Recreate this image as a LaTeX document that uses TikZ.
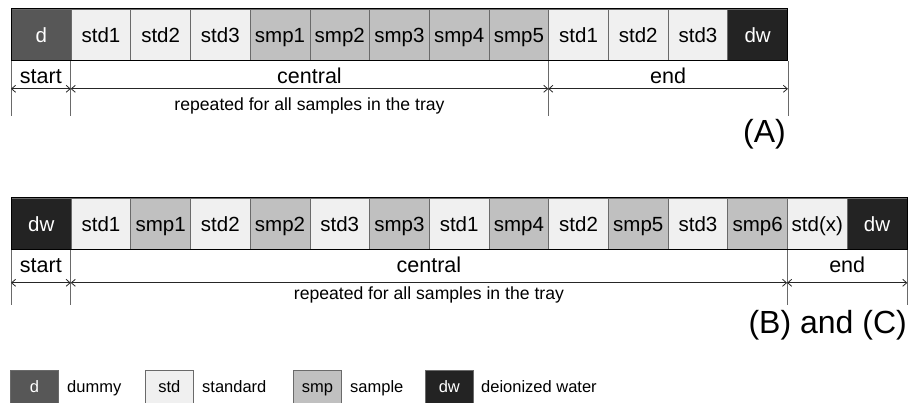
\documentclass[tikz,border=0pt]{standalone}
\usepackage{fontspec}
\setmainfont{Liberation Sans}
\usetikzlibrary{arrows.meta,calc}
\definecolor{cdummy}{HTML}{575757}
\definecolor{cstd}{HTML}{F0F0F0}
\definecolor{csmp}{HTML}{C0C0C0}
\definecolor{cdw}{HTML}{232323}
\definecolor{cline}{HTML}{6A6A6A}
\begin{document}
\begin{tikzpicture}[x=1pt,y=-1pt,
  cell/.style={draw=cline, line width=0.8pt, minimum width=59.7pt, minimum height=51pt,
    inner sep=0pt, text height=16pt, text depth=0pt, anchor=north west,
    font=\fontsize{20.5}{21}\selectfont},
  dum/.style={fill=cdummy, text=white},
  std/.style={fill=cstd},
  smp/.style={fill=csmp},
  dwk/.style={fill=cdw, text=white},
  lab/.style={anchor=base, inner sep=0pt, font=\fontsize{21.5}{22}\selectfont},
  note/.style={anchor=base, inner sep=0pt, font=\fontsize{17.6}{18}\selectfont},
  tag/.style={anchor=base east, inner sep=0pt, font=\fontsize{32}{33}\selectfont},
  guide/.style={draw=cline, line width=0.8pt},
  dim/.style={draw=black!85, line width=0.8pt, {Straight Barb[length=4pt,width=7pt]}-{Straight Barb[length=4pt,width=7pt]}},
  key/.style={draw=cline, line width=0.7pt, minimum width=48pt, minimum height=38pt,
    inner sep=0pt, text height=12pt, text depth=6pt, anchor=north west,
    font=\fontsize{16.5}{17}\selectfont},
  keytext/.style={anchor=base west, inner sep=0pt, font=\fontsize{16.5}{17}\selectfont}]

\useasboundingbox (0,0) rectangle (909,403);

% ---------- sequence (A) ----------
\foreach \lab/\kind [count=\i] in {d/dum,std1/std,std2/std,std3/std,smp1/smp,smp2/smp,smp3/smp,smp4/smp,smp5/smp,std1/std,std2/std,std3/std,dw/dwk}
  \node[cell,\kind] (a\i) at ({11+(\i-1)*59.7},9) {\lab};
\draw[black, line width=1pt] (a1.north west) rectangle (a13.south east);

\foreach \n/\c in {a1.south west/va0, a2.south west/va1, a10.south west/va2, a13.south east/va3} {
  \coordinate (\c) at ($(\n)+(0,55)$);
  \coordinate (h\c) at ($(\n)+(0,28)$);
  \draw[guide] (\n) -- (\c);
}
\draw[dim] (hva0) -- (hva1);
\draw[dim] (hva1) -- (hva2);
\draw[dim] (hva2) -- (hva3);
\node[lab] (sa) at ($(hva0)!0.5!(hva1)+(0,-5)$) {start};
\node[lab] (ca) at ($(hva1)!0.5!(hva2)+(0,-5)$) {central};
\node[lab] (ea) at ($(hva2)!0.5!(hva3)+(0,-5)$) {end};
\node[note] (ra) at ($(hva1)!0.5!(hva2)+(0,21.5)$) {repeated for all samples in the tray};
\node[tag] (ta) at (786,143) {(A)};

% ---------- sequence (B) and (C) ----------
\foreach \lab/\kind [count=\i] in {dw/dwk,std1/std,smp1/smp,std2/std,smp2/smp,std3/std,smp3/smp,std1/std,smp4/smp,std2/std,smp5/smp,std3/std,smp6/smp,std(x)/std,dw/dwk}
  \node[cell,\kind] (b\i) at ({11+(\i-1)*59.7},198) {\lab};
\draw[black, line width=1pt] (b1.north west) rectangle (b15.south east);

\foreach \n/\c in {b1.south west/vb0, b2.south west/vb1, b14.south west/vb2, b15.south east/vb3} {
  \coordinate (\c) at ($(\n)+(0,55)$);
  \coordinate (h\c) at ($(\n)+(0,33)$);
  \draw[guide] (\n) -- (\c);
}
\draw[dim] (hvb0) -- (hvb1);
\draw[dim] (hvb1) -- (hvb2);
\draw[dim] (hvb2) -- (hvb3);
\node[lab] (sb) at ($(hvb0)!0.5!(hvb1)+(0,-10.5)$) {start};
\node[lab] (cb) at ($(hvb1)!0.5!(hvb2)+(0,-10.5)$) {central};
\node[lab] (eb) at ($(hvb2)!0.5!(hvb3)+(0,-10.5)$) {end};
\node[note] (rb) at ($(hvb1)!0.5!(hvb2)+(0,17)$) {repeated for all samples in the tray};
\node[tag] (tb) at (907,333) {(B) and (C)};

% ---------- legend ----------
\node[key,dum] (k1) at (10,370) {d};
\node[keytext] (l1) at (67,392) {dummy};
\node[key,std] (k2) at (145,370) {std};
\node[keytext] (l2) at (202,392) {standard};
\node[key,smp] (k3) at (293,370) {smp};
\node[keytext] (l3) at (350,392) {sample};
\node[key,dwk] (k4) at (425,370) {dw};
\node[keytext] (l4) at (481,392) {deionized water};
\end{tikzpicture}
\end{document}
